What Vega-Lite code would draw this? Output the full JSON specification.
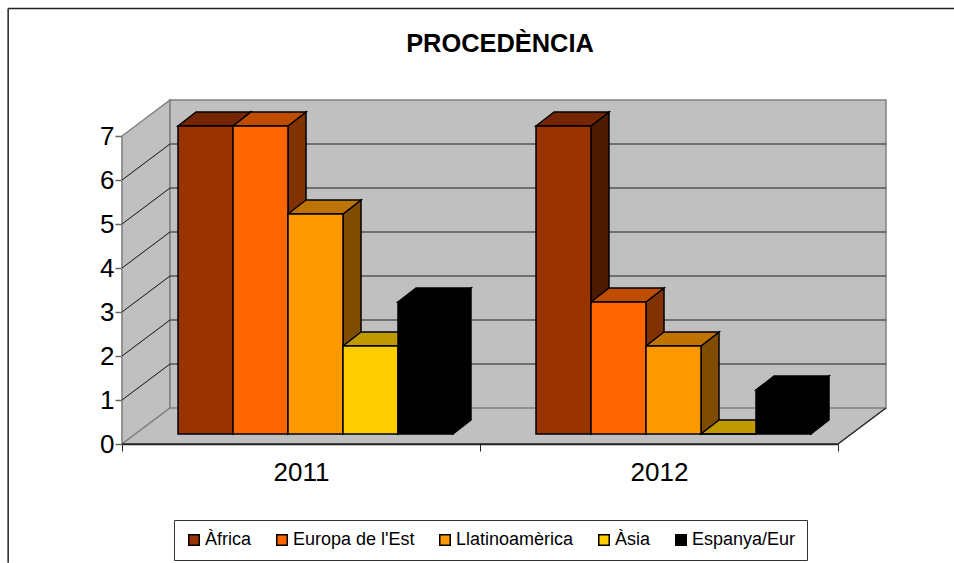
{
  "$schema": "https://vega.github.io/schema/vega-lite/v6.json",
  "width": 716,
  "height": 308,
  "autosize": "none",
  "padding": {"left": 122, "top": 136, "right": 116, "bottom": 119},
  "background": "white",
  "config": {"view": {"stroke": null}},
  "title": {
    "text": "PROCEDÈNCIA",
    "font": "Liberation Sans",
    "fontSize": 25.4,
    "fontWeight": "bold",
    "color": "black",
    "anchor": "middle",
    "frame": "group",
    "dx": 20,
    "dy": 50,
    "offset": 0
  },
  "resolve": {"scale": {"fill": "independent", "color": "independent"}, "legend": {"fill": "independent", "color": "independent"}},
  "datasets": {
    "bars": [
      {"any": "2011", "grup": 0, "ordre": 0, "procedencia": "Àfrica", "valor": 7},
      {"any": "2011", "grup": 0, "ordre": 1, "procedencia": "Europa de l'Est", "valor": 7},
      {"any": "2011", "grup": 0, "ordre": 2, "procedencia": "Llatinoamèrica", "valor": 5},
      {"any": "2011", "grup": 0, "ordre": 3, "procedencia": "Àsia", "valor": 2},
      {"any": "2011", "grup": 0, "ordre": 4, "procedencia": "Espanya/Eur", "valor": 3},
      {"any": "2012", "grup": 1, "ordre": 0, "procedencia": "Àfrica", "valor": 7},
      {"any": "2012", "grup": 1, "ordre": 1, "procedencia": "Europa de l'Est", "valor": 3},
      {"any": "2012", "grup": 1, "ordre": 2, "procedencia": "Llatinoamèrica", "valor": 2},
      {"any": "2012", "grup": 1, "ordre": 3, "procedencia": "Àsia", "valor": 0},
      {"any": "2012", "grup": 1, "ordre": 4, "procedencia": "Espanya/Eur", "valor": 1}
    ],
    "ticks": [{"v": 0}, {"v": 1}, {"v": 2}, {"v": 3}, {"v": 4}, {"v": 5}, {"v": 6}, {"v": 7}],
    "ends": [{"t": 0}, {"t": 1}]
  },
  "layer": [
    {
      "data": {"values": [{}]},
      "mark": {"type": "rule", "stroke": "#222222", "strokeWidth": 1.5, "clip": false},
      "encoding": {
        "x": {"datum": -0.318, "scale": {"type": "linear", "domain": [0, 2], "range": [0, 716], "nice": false, "zero": false},
          "axis": {"values": [0, 0.5, 1, 1.5, 2], "title": null, "grid": false, "domainColor": "#222222", "domainWidth": 1.5,
            "tickColor": "#222222", "tickSize": 7, "tickOpacity": {"expr": "datum.value % 1 === 0 ? 1 : 0"},
            "labelExpr": "datum.value === 0.5 ? '2011' : datum.value === 1.5 ? '2012' : ''",
            "labelFont": "Liberation Sans", "labelFontSize": 26, "labelColor": "black", "labelPadding": 8, "labelAngle": 0, "labelOverlap": false, "labelFlush": false}},
        "x2": {"datum": -0.318},
        "y": {"datum": 9.9, "scale": {"type": "linear", "domain": [0, 7], "nice": false, "zero": false},
          "axis": {"values": [0, 1, 2, 3, 4, 5, 6, 7], "title": null, "grid": false, "domainColor": "#666666", "domainWidth": 1.5,
            "tickColor": "#666666", "tickSize": 7, "tickWidth": 1.5,
            "labelFont": "Liberation Sans", "labelFontSize": 26, "labelColor": "black", "labelPadding": 1}},
        "y2": {"datum": -2.7}
      }
    },
    {
      "data": {"values": [{}]},
      "mark": {"type": "rule", "stroke": "#222222", "strokeWidth": 1.5, "clip": false},
      "encoding": {"x": {"datum": -0.318}, "x2": {"datum": 2.33}, "y": {"datum": 9.9}, "y2": {"datum": 9.9}}
    },
    {
      "data": {"name": "ends"},
      "transform": [
        {"calculate": "datum.t * 48 / 358", "as": "wx"},
        {"calculate": "datum.t * 36 / 44", "as": "wy"},
        {"calculate": "7 + datum.wy", "as": "wy2"}
      ],
      "mark": {"type": "area", "fill": "#c0c0c0", "stroke": "#808080", "strokeWidth": 1.5, "orient": "vertical"},
      "encoding": {"x": {"field": "wx", "type": "quantitative"}, "y": {"field": "wy", "type": "quantitative"}, "y2": {"field": "wy2"}}
    },
    {
      "data": {"name": "ends"},
      "transform": [
        {"calculate": "datum.t * 48 / 358", "as": "wx"},
        {"calculate": "2 + datum.wx", "as": "wx2"},
        {"calculate": "datum.t * 36 / 44", "as": "wy"}
      ],
      "mark": {"type": "area", "fill": "#c0c0c0", "orient": "horizontal"},
      "encoding": {"y": {"field": "wy", "type": "quantitative"}, "x": {"field": "wx", "type": "quantitative"}, "x2": {"field": "wx2"}}
    },
    {
      "data": {"values": [{}]},
      "mark": {"type": "rect", "fill": "#c0c0c0", "stroke": "#808080", "strokeWidth": 1.5, "xOffset": 48, "x2Offset": 48, "yOffset": -36, "y2Offset": -36},
      "encoding": {"x": {"datum": 0}, "x2": {"datum": 2}, "y": {"datum": 0}, "y2": {"datum": 7}}
    },
    {
      "data": {"name": "ticks"},
      "transform": [{"filter": "datum.v > 0 && datum.v < 7"}],
      "mark": {"type": "rule", "stroke": "#555555", "strokeWidth": 1.5, "xOffset": 48, "x2Offset": 48, "yOffset": -36},
      "encoding": {"x": {"datum": 0}, "x2": {"datum": 2}, "y": {"field": "v", "type": "quantitative"}}
    },
    {
      "data": {"name": "ticks"},
      "transform": [{"filter": "datum.v > 0 && datum.v < 7"}, {"calculate": "datum.v + 36 / 44", "as": "v2"}],
      "mark": {"type": "rule", "stroke": "#111111", "strokeWidth": 1},
      "encoding": {"x": {"datum": 0}, "x2": {"datum": 0.13408}, "y": {"field": "v", "type": "quantitative"}, "y2": {"field": "v2"}}
    },
    {
      "data": {"name": "ticks"},
      "transform": [{"filter": "datum.v === 0"}, {"calculate": "datum.v + 36 / 44", "as": "v2"}],
      "mark": {"type": "rule", "stroke": "#808080", "strokeWidth": 1.5},
      "encoding": {"x": {"datum": 0}, "x2": {"datum": 0.13408}, "y": {"field": "v", "type": "quantitative"}, "y2": {"field": "v2"}}
    },
    {
      "data": {"values": [{}]},
      "mark": {"type": "rule", "stroke": "#222222", "strokeWidth": 1.5},
      "encoding": {"x": {"datum": 2}, "x2": {"datum": 2.13408}, "y": {"datum": 0}, "y2": {"datum": 0.818}}
    },
    {
      "data": {"values": [{}]},
      "mark": {"type": "rule", "stroke": "#222222", "strokeWidth": 1.5},
      "encoding": {"x": {"datum": 0}, "x2": {"datum": 2}, "y": {"datum": 0}, "y2": {"datum": 0}}
    },
    {
      "data": {"name": "bars"},
      "transform": [
        {"calculate": "datum.grup + (56 + 55 * datum.ordre) / 358", "as": "esq"},
        {"calculate": "datum.esq + 55 / 358", "as": "dre"},
        {"calculate": "[0, 1]", "as": "t"},
        {"flatten": ["t"]},
        {"calculate": "datum.dre + datum.t * 18 / 358", "as": "fx"},
        {"calculate": "datum.t * 14 / 44", "as": "fy"},
        {"calculate": "datum.valor + datum.fy", "as": "fy2"},
        {"calculate": "datum.any + datum.procedencia", "as": "clau"}
      ],
      "mark": {"type": "area", "orient": "vertical", "stroke": "black", "strokeWidth": 1.5, "yOffset": -10, "y2Offset": -10},
      "encoding": {
        "x": {"field": "fx", "type": "quantitative"},
        "y": {"field": "fy", "type": "quantitative"},
        "y2": {"field": "fy2"},
        "detail": {"field": "clau"},
        "fill": {"field": "procedencia", "type": "nominal", "scale": {"domain": ["Àfrica", "Europa de l'Est", "Llatinoamèrica", "Àsia", "Espanya/Eur"], "range": ["#4d1a00", "#803300", "#804d00", "#806600", "#000000"]}, "legend": null}
      }
    },
    {
      "data": {"name": "bars"},
      "transform": [
        {"calculate": "datum.grup + (56 + 55 * datum.ordre) / 358", "as": "esq"},
        {"calculate": "[0, 1]", "as": "t"},
        {"flatten": ["t"]},
        {"calculate": "datum.esq + datum.t * 18 / 358", "as": "tx"},
        {"calculate": "datum.tx + 55 / 358", "as": "tx2"},
        {"calculate": "datum.valor + datum.t * 14 / 44", "as": "ty"},
        {"calculate": "datum.any + datum.procedencia", "as": "clau"}
      ],
      "mark": {"type": "area", "orient": "horizontal", "stroke": "black", "strokeWidth": 1.5, "yOffset": -10, "y2Offset": -10},
      "encoding": {
        "y": {"field": "ty", "type": "quantitative"},
        "x": {"field": "tx", "type": "quantitative"},
        "x2": {"field": "tx2"},
        "detail": {"field": "clau"},
        "fill": {"field": "procedencia", "type": "nominal", "scale": {"domain": ["Àfrica", "Europa de l'Est", "Llatinoamèrica", "Àsia", "Espanya/Eur"], "range": ["#732600", "#bf4d00", "#bf7300", "#bf9900", "#000000"]}, "legend": null}
      }
    },
    {
      "data": {"name": "bars"},
      "transform": [
        {"calculate": "datum.grup + (56 + 55 * datum.ordre) / 358", "as": "esq"},
        {"calculate": "datum.esq + 55 / 358", "as": "dre"}
      ],
      "mark": {"type": "rect", "stroke": "black", "strokeWidth": 1.5, "yOffset": -10, "y2Offset": -10},
      "encoding": {
        "x": {"field": "esq", "type": "quantitative"},
        "x2": {"field": "dre"},
        "y": {"field": "valor", "type": "quantitative"},
        "y2": {"datum": 0},
        "color": {
          "field": "procedencia", "type": "nominal",
          "scale": {"domain": ["Àfrica", "Europa de l'Est", "Llatinoamèrica", "Àsia", "Espanya/Eur"], "range": ["#993300", "#ff6600", "#ff9900", "#ffcc00", "#000000"]},
          "legend": {
            "orient": "none", "legendX": 52, "legendY": 384, "direction": "horizontal", "columns": 5, "title": null,
            "symbolType": "square", "symbolSize": 110, "symbolStrokeColor": "black", "symbolStrokeWidth": 1.5,
            "labelFont": "Liberation Sans", "labelFontSize": 18, "labelColor": "black", "labelOffset": 2,
            "columnPadding": 21, "padding": 11, "strokeColor": "#333333", "fillColor": "white"
          }
        }
      }
    }
  ]
}
